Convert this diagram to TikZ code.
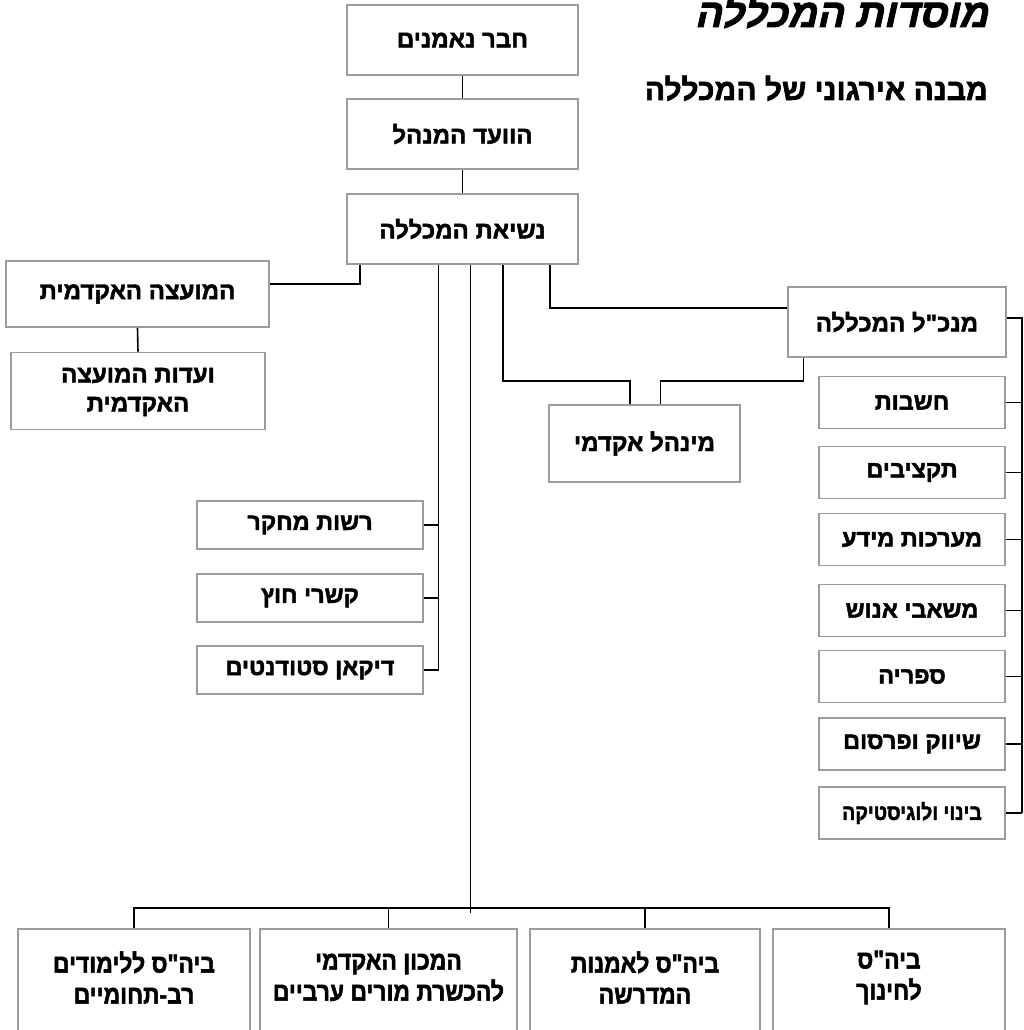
\documentclass[tikz,border=0pt]{standalone}
\usepackage{fontspec}
\TeXXeTstate=1
\newfontfamily\he[Script=Hebrew,FakeBold=2]{Liberation Sans Bold}
\newfontfamily\hecond[Script=Hebrew,FakeStretch=0.88,FakeBold=2]{Liberation Sans Bold}
\newfontfamily\heslant[Script=Hebrew,FakeSlant=0.22,FakeBold=2]{Liberation Sans Bold}
\newcommand{\HebT}[1]{\beginR #1\endR}
\definecolor{boxgray}{HTML}{9C9C9C}
\tikzset{
  box/.style={draw=boxgray, line width=1.8pt, fill=white, inner sep=0pt, align=center,
    font=\he\fontsize{24}{30}\selectfont},
  smallbox/.style={box, font=\he\fontsize{23.5}{28}\selectfont},
  condbox/.style={box, font=\hecond\fontsize{22}{26}\selectfont},
  btext/.style={inner sep=0pt, align=center, font=\hecond\fontsize{26}{31}\selectfont},
  conn/.style={line width=1.6pt, black}
}
\begin{document}
\begin{tikzpicture}[x=1pt,y=-1pt]
\useasboundingbox (0,0) rectangle (1023,1030);
\clip (0,0) rectangle (1023,1030);

% titles
\node[anchor=base east, inner sep=0pt, font=\heslant\fontsize{40}{40}\selectfont] (title) at (988,27) {\HebT{מוסדות המכללה}};
\node[anchor=base east, inner sep=0pt, font=\he\fontsize{30}{30}\selectfont] (subtitle) at (988,100) {\HebT{מבנה אירגוני של המכללה}};

% main column
\node[box, minimum width=231pt, minimum height=70pt] (trust) at (462.5,40) {\HebT{חבר נאמנים}};
\node[box, minimum width=231pt, minimum height=70pt] (board) at (462.5,134) {\HebT{הוועד המנהל}};
\node[box, minimum width=231pt, minimum height=70pt] (pres) at (462.5,229) {\HebT{נשיאת המכללה}};

% left
\node[box, minimum width=263pt, minimum height=66pt] (council) at (137.5,294) {\HebT{המועצה האקדמית}};
\node[box, minimum width=254pt, minimum height=77pt] (committees) at (138,391) {\raisebox{-5pt}{\begin{tabular}{@{}c@{}}\HebT{ועדות המועצה}\\[-1pt]\HebT{האקדמית}\end{tabular}}};

% CEO and admin
\node[box, minimum width=218pt, minimum height=70pt] (ceo) at (897,322) {\HebT{מנכ"ל המכללה}};
\node[box, minimum width=191pt, minimum height=77pt] (admin) at (644.5,443.5) {\HebT{מינהל אקדמי}};

% right column
\node[smallbox, minimum width=186pt, minimum height=52pt] (acc) at (912,402.5) {\HebT{חשבות}};
\node[smallbox, minimum width=186pt, minimum height=52pt] (budget) at (912,472.5) {\HebT{תקציבים}};
\node[smallbox, minimum width=186pt, minimum height=52pt] (infosys) at (912,539.5) {\HebT{מערכות מידע}};
\node[smallbox, minimum width=186pt, minimum height=52pt] (hr) at (912,610.5) {\HebT{משאבי אנוש}};
\node[smallbox, minimum width=186pt, minimum height=52pt] (library) at (912,676.5) {\HebT{ספריה}};
\node[smallbox, minimum width=186pt, minimum height=52pt] (marketing) at (912,744) {\HebT{שיווק ופרסום}};
\node[condbox, minimum width=186pt, minimum height=52pt] (logistics) at (912,813) {\HebT{בינוי ולוגיסטיקה}};

% left small group
\node[smallbox, minimum width=226pt, minimum height=48pt] (research) at (310,525) {\HebT{רשות מחקר}};
\node[smallbox, minimum width=226pt, minimum height=48pt] (foreign) at (310,598) {\HebT{קשרי חוץ}};
\node[smallbox, minimum width=226pt, minimum height=48pt] (dean) at (310,670) {\HebT{דיקאן סטודנטים}};

% bottom boxes
\node[box, minimum width=232pt, minimum height=131pt] (b1) at (134,994.5) {};
\node[box, minimum width=257pt, minimum height=131pt] (b2) at (388.5,994.5) {};
\node[box, minimum width=230pt, minimum height=131pt] (b3) at (645,994.5) {};
\node[box, minimum width=232pt, minimum height=131pt] (b4) at (889,994.5) {};
\node[btext] (b1t) at (134,977.5) {\HebT{ביה"ס ללימודים}\\\HebT{רב-תחומיים}};
\node[btext] (b2t) at (388.5,977.5) {\HebT{המכון האקדמי}\\\HebT{להכשרת מורים ערביים}};
\node[btext] (b3t) at (645,977.5) {\HebT{ביה"ס לאמנות}\\\HebT{המדרשה}};
\node[btext] (b4t) at (889,977.5) {\HebT{ביה"ס}\\\HebT{לחינוך}};

% coordinates
\coordinate (rtop) at (1022,318);
\coordinate (rbot) at (1022,813);
\coordinate (lsp) at (438.5,600);
\coordinate (barL) at (133,908);
\coordinate (barR) at (890,908);

% connectors
\draw[conn] (trust.south) -- (board.north);
\draw[conn] (board.south) -- (pres.north);
\draw[conn] ([xshift=-102.5pt]pres.south) |- ([yshift=10pt]council.east);
\draw[conn] (council.south) -- (committees.north);
\draw[conn] ([xshift=87.5pt]pres.south) |- ([yshift=14pt]ceo.west);
\draw[conn] ([xshift=40.5pt]pres.south) -- ++(0,116) -| ([xshift=-14.5pt]admin.north);
\draw[conn] ([xshift=-93.5pt]ceo.south) -- ++(0,23) -| ([xshift=16pt]admin.north);
\draw[conn] ([yshift=4pt]ceo.east) -- (rtop) -- (rbot);
\foreach \n in {acc,budget,infosys,hr,library,marketing,logistics}
  \draw[conn] (\n.east) -- (\n.east -| rtop);
\draw[conn] ([xshift=-24pt]pres.south) |- (dean.east);
\foreach \n in {research,foreign}
  \draw[conn] (\n.east) -- (\n.east -| lsp);
\draw[conn] ([xshift=8pt]pres.south) -- ++(0,648);
\draw[conn] (barL) -- (barR);
\foreach \n in {b1,b2,b3,b4}
  \draw[conn] (\n.north |- barL) -- (\n.north);
\end{tikzpicture}
\end{document}
